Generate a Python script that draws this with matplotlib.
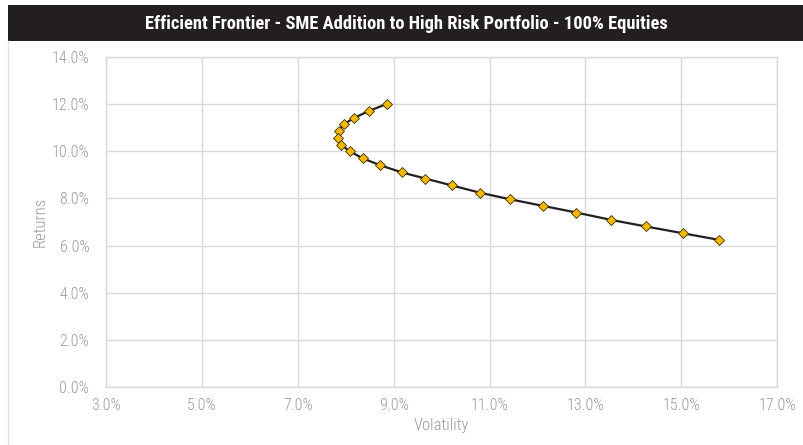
import matplotlib
matplotlib.use("Agg")
import matplotlib.pyplot as plt
from matplotlib.ticker import FuncFormatter
from matplotlib.patches import Rectangle
from matplotlib.lines import Line2D

# efficient frontier points (volatility %, return %)
volatility = [8.87, 8.48, 8.18, 7.96, 7.85, 7.83, 7.90, 8.09, 8.35, 8.72, 9.17,
              9.66, 10.21, 10.80, 11.43, 12.12, 12.81, 13.53, 14.26, 15.04, 15.79]
returns = [12.01, 11.70, 11.41, 11.14, 10.86, 10.55, 10.27, 9.99, 9.70, 9.40, 9.10,
           8.84, 8.55, 8.24, 7.96, 7.68, 7.40, 7.09, 6.81, 6.52, 6.24]

x_ticks = [3, 5, 7, 9, 11, 13, 15, 17]
y_ticks = [0, 2, 4, 6, 8, 10, 12, 14]

title = "Efficient Frontier - SME Addition to High Risk Portfolio - 100% Equities"

plt.rcParams['font.family'] = ['Roboto Condensed', 'Liberation Sans Narrow', 'Roboto', 'DejaVu Sans']
light_fam = ['Roboto Condensed Light', 'Roboto Condensed', 'Roboto', 'DejaVu Sans']

fig = plt.figure(figsize=(8.04, 4.45), dpi=100)
ax = fig.add_axes([0.1318, 0.1297, 0.8350, 0.7429])

grey = '#d9d9d9'
txt = '#9a9a9a'

# title bar
fig.patches.append(Rectangle((0.00995, 0.9079), 1.0, 0.0809, transform=fig.transFigure,
                             facecolor='#231f20', edgecolor='none'))
fig.text(0.505, 0.947, title, color='white', fontsize=13.3, fontweight='bold',
         ha='center', va='center')
# left frame line
fig.lines.append(Line2D([0.0105, 0.0105], [0.0, 0.9079], transform=fig.transFigure,
                        color='#e0e0e0', linewidth=1))

ax.plot(volatility, returns, color='#231f20', linewidth=1.6, marker='D', markersize=5,
        markerfacecolor='#f7b900', markeredgecolor='#3a3000', markeredgewidth=0.6, zorder=3)

ax.set_xlim(3, 17)
ax.set_ylim(0, 14)
ax.set_xticks(x_ticks)
ax.set_yticks(y_ticks)
ax.xaxis.set_major_formatter(FuncFormatter(lambda v, p: "{:.1f}%".format(v)))
ax.yaxis.set_major_formatter(FuncFormatter(lambda v, p: "{:.1f}%".format(v)))
ax.grid(True, color=grey, linewidth=1)
ax.set_axisbelow(True)
for s in ax.spines.values():
    s.set_color(grey)
    s.set_linewidth(1)
ax.tick_params(axis='y', length=0, colors=txt, labelsize=11.5, pad=12)
ax.tick_params(axis='x', length=0, colors=txt, labelsize=11.5, pad=8)
for lbl in ax.get_xticklabels() + ax.get_yticklabels():
    lbl.set_family(light_fam)
    lbl.set_fontweight('light')

ax.set_xlabel("Volatility", color=txt, fontsize=12, family=light_fam, fontweight='light', labelpad=3)
ax.set_ylabel("Returns", color=txt, fontsize=12, family=light_fam, fontweight='light', labelpad=3)

fig.savefig("out.png", dpi=100, facecolor='white')
